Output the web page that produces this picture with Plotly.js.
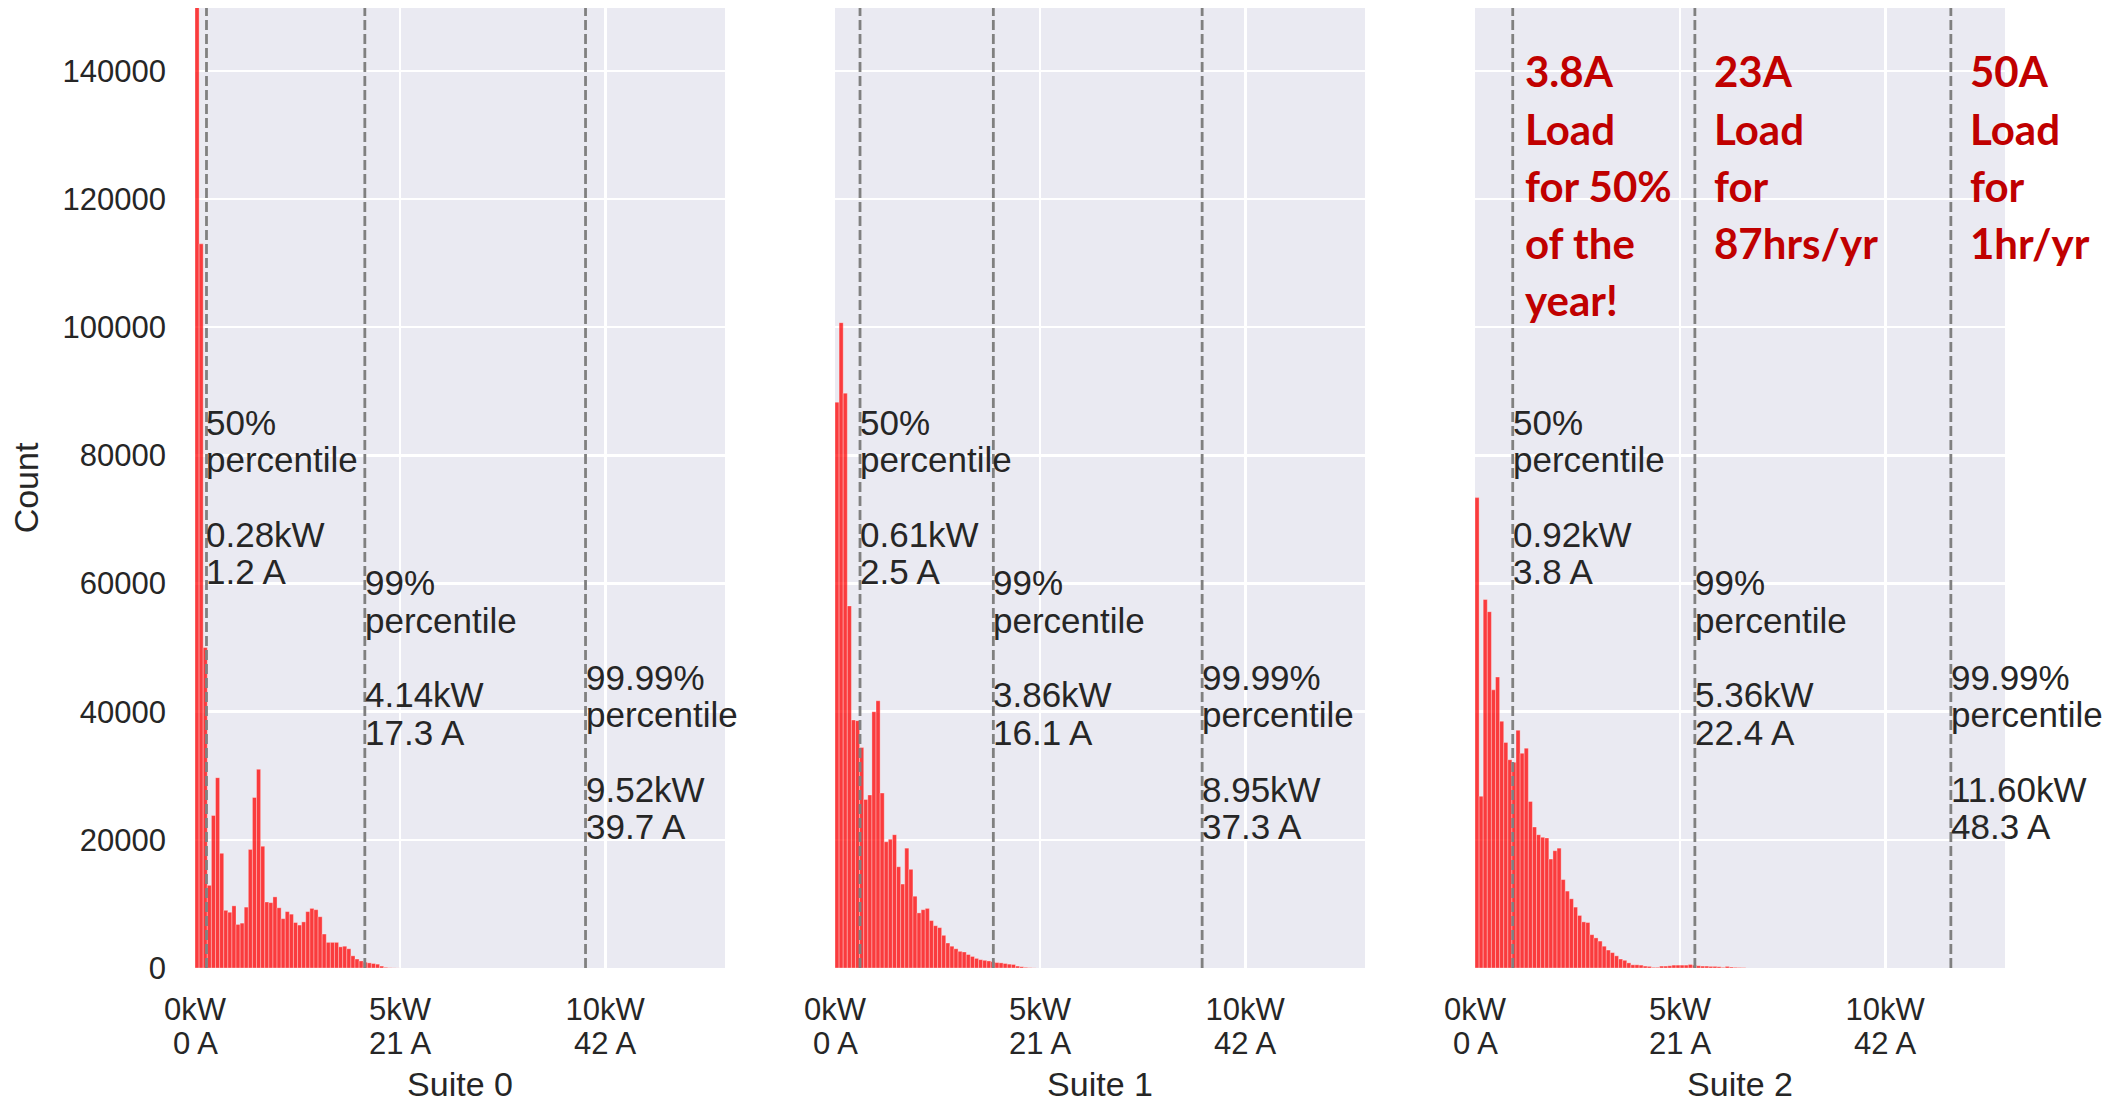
<!DOCTYPE html>
<html><head><meta charset="utf-8">
<script src="https://cdn.plot.ly/plotly-3.0.1.min.js"></script>
<style>html,body{margin:0;padding:0;background:#fff}#chart{width:2126px;height:1104px}</style>
</head><body><div id="chart"></div>
<script>
// ---------- data ----------
const suiteNames = ["Suite 0", "Suite 1", "Suite 2"];
const binWidthKW = 0.1; // histogram bin width (kW), bins start at 0
const suite0Counts = [170000, 113000, 50000, 12900, 23800, 29700, 17900, 9000, 8700, 9700,
  6800, 7000, 9500, 18500, 26600, 31000, 19000, 10300, 10200, 11100,
  9400, 7700, 8800, 8400, 7100, 6700, 7200, 8800, 9300, 9100,
  8000, 5300, 4000, 4000, 4000, 3300, 3400, 3000, 1900, 1400,
  1100, 900, 800, 700, 600, 300, 100, 40, 20, 10];
const suite1Counts = [88300, 100700, 89700, 56500, 38700, 38600, 34400, 26300, 27000, 40000,
  41700, 27300, 19700, 20100, 20800, 15800, 13100, 18700, 15400, 11200,
  8600, 9100, 9300, 7400, 6600, 6300, 5100, 3900, 3400, 3000,
  2600, 2500, 2100, 1800, 1500, 1300, 1200, 1100, 1000, 850,
  800, 700, 600, 550, 300, 200, 100, 50, 20];
const suite2Counts = [73400, 26800, 57500, 55600, 43400, 45400, 38500, 35200, 32500, 32100,
  37100, 33500, 34300, 26000, 22000, 20800, 20400, 20300, 17000, 18300,
  18700, 13800, 12000, 10800, 9500, 8200, 7200, 7100, 5200, 4700,
  4200, 3400, 2800, 2400, 1900, 1400, 1200, 800, 500, 500,
  450, 300, 250, 100, 100, 300, 300, 350, 450, 450,
  450, 450, 550, 450, 350, 300, 300, 250, 250, 200,
  100, 250, 150, 100, 80, 60];
const percentileLabels = ["50%", "99%", "99.99%"];
const suite0PercentileKW = [0.28, 4.14, 9.52];
const suite0PercentileA  = [1.2, 17.3, 39.7];
const suite1PercentileKW = [0.61, 3.86, 8.95];
const suite1PercentileA  = [2.5, 16.1, 37.3];
const suite2PercentileKW = [0.92, 5.36, 11.60];
const suite2PercentileA  = [3.8, 22.4, 48.3];
const tickKW = [0, 5, 10];
const tickKWText = ["0kW", "5kW", "10kW"];
const tickAmpText = ["0 A", "21 A", "42 A"];
const yTickVals = [0, 20000, 40000, 60000, 80000, 100000, 120000, 140000];
const calloutLines = [
  ["3.8A", "Load", "for 50%", "of the", "year!"],
  ["23A", "Load", "for", "87hrs/yr"],
  ["50A", "Load", "for", "1hr/yr"]
];

// ---------- layout constants (positions / styles) ----------
const W = 2126, H = 1104;
const panelPx = [[195, 725], [835, 1365], [1475, 2005]];
const xRange = [0, 12.92];
const yRange = [0, 149800];
const labelTopY = [85100, 60100, 45300];   // data y of first line of each percentile block
const labelStepY = 5820;                   // data y per text line
const labelLineOffsets = [0, 1, 3, 4];
const calloutX = [1.17, 5.78, 12.01];
const calloutTopY = 139900, calloutStepY = 8910;
const FONT = "Liberation Sans, Arial, sans-serif";
const TXT = "#262626";

const allCounts = [suite0Counts, suite1Counts, suite2Counts];
const allPctKW = [suite0PercentileKW, suite1PercentileKW, suite2PercentileKW];
const allPctA = [suite0PercentileA, suite1PercentileA, suite2PercentileA];

const traces = [];
const layout = {
  width: W, height: H,
  margin: {l: 0, r: 0, t: 8, b: 136},
  paper_bgcolor: "#ffffff",
  plot_bgcolor: "#EAEAF2",
  showlegend: false,
  bargap: 0,
  font: {family: FONT, color: TXT},
  shapes: [],
  annotations: []
};

suiteNames.forEach((name, s) => {
  const xa = s === 0 ? "x" : "x" + (s + 1);
  const ya = s === 0 ? "y" : "y" + (s + 1);
  const counts = allCounts[s];
  traces.push({
    type: "bar",
    x: counts.map((c, i) => (i + 0.5) * binWidthKW),
    y: counts,
    width: binWidthKW,
    xaxis: xa, yaxis: ya,
    marker: {color: "rgba(255,0,0,0.75)", line: {color: "rgba(255,255,255,0.45)", width: 0.7}},
    hoverinfo: "skip"
  });
  const xKey = s === 0 ? "xaxis" : "xaxis" + (s + 1);
  const yKey = s === 0 ? "yaxis" : "yaxis" + (s + 1);
  layout[xKey] = {
    domain: [panelPx[s][0] / W, panelPx[s][1] / W],
    anchor: ya,
    range: xRange,
    tickvals: tickKW, ticktext: tickKWText,
    ticks: "", showline: false, zeroline: false,
    showgrid: true, gridcolor: "#ffffff", gridwidth: 2.6,
    tickfont: {family: FONT, size: 31, color: TXT},
    ticklabelstandoff: 20,
    title: {text: name, font: {family: FONT, size: 34, color: TXT}, standoff: 46},
    fixedrange: true
  };
  layout[yKey] = {
    domain: [0, 1],
    anchor: xa,
    range: yRange,
    tickvals: yTickVals, tickformat: "d",
    ticks: "", showline: false, zeroline: false,
    showgrid: true, gridcolor: "#ffffff", gridwidth: 2.6,
    showticklabels: s === 0,
    tickfont: {family: FONT, size: 31, color: TXT},
    ticklabelstandoff: 28,
    fixedrange: true
  };
  if (s === 0) {
    layout[yKey].title = {text: "Count", font: {family: FONT, size: 34, color: TXT}, standoff: 13};
  } else {
    layout[yKey].matches = "y";
  }

  // percentile dashed lines + labels
  allPctKW[s].forEach((kw, p) => {
    layout.shapes.push({
      type: "line", xref: xa, yref: ya + " domain",
      x0: kw, x1: kw, y0: 0, y1: 1, layer: "above",
      line: {color: "#808080", width: 2.8, dash: "10px,4px"}
    });
    const lines = [percentileLabels[p], "percentile", kw.toFixed(2) + "kW", allPctA[s][p].toFixed(1) + " A"];
    lines.forEach((t, k) => {
      layout.annotations.push({
        text: t, xref: xa, yref: ya, x: kw, y: labelTopY[p] - labelLineOffsets[k] * labelStepY,
        xanchor: "left", yanchor: "middle", xshift: -2, showarrow: false,
        font: {family: FONT, size: 35, color: TXT}
      });
    });
  });

  // second tick-label line (amps)
  tickKW.forEach((kw, i) => {
    layout.annotations.push({
      text: tickAmpText[i], xref: xa, yref: "paper", x: kw, y: 0, yshift: -75.3,
      xanchor: "center", yanchor: "middle", showarrow: false,
      font: {family: FONT, size: 31, color: TXT}
    });
  });
});

// red callouts on Suite 2
calloutLines.forEach((lines, c) => {
  lines.forEach((t, k) => {
    layout.annotations.push({
      text: "<b>" + t + "</b>", xref: "x3", yref: "y3", x: calloutX[c], y: calloutTopY - k * calloutStepY,
      xanchor: "left", yanchor: "middle", showarrow: false,
      font: {family: "Lato, sans-serif", size: 42, color: "#C00000"}
    });
  });
});

Plotly.newPlot("chart", traces, layout, {displayModeBar: false, staticPlot: true});
</script></body></html>
